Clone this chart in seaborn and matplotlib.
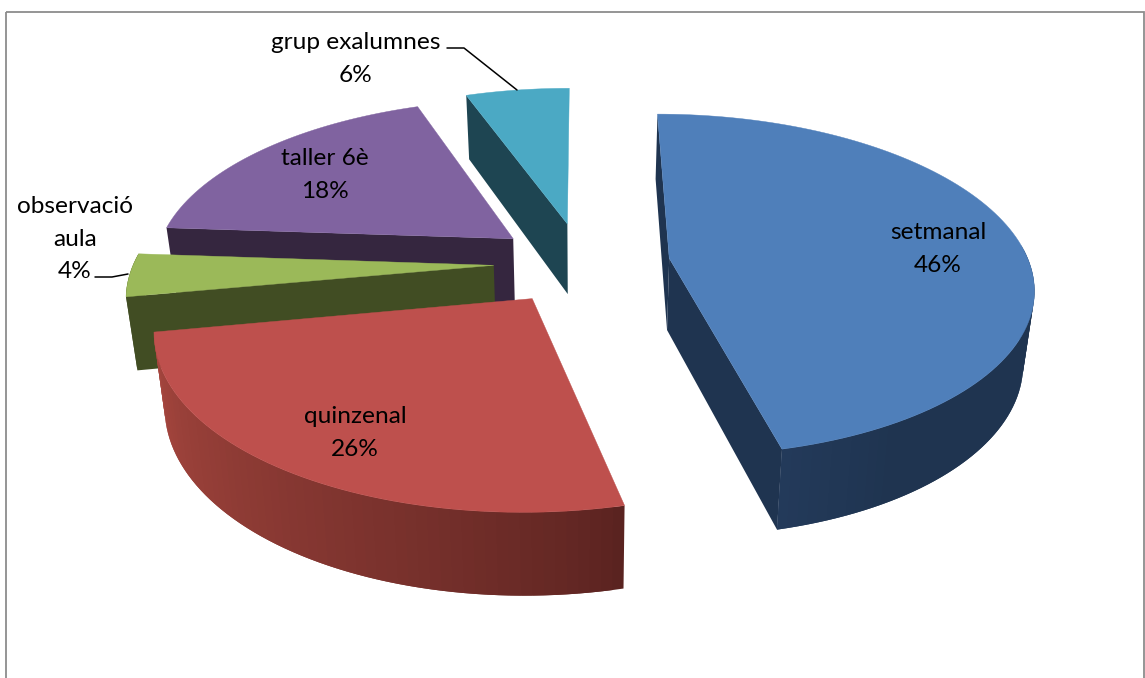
import numpy as np
import seaborn as sns
import matplotlib.pyplot as plt
from matplotlib.patches import Rectangle

categories = ['setmanal', 'quinzenal', 'observació\naula', 'taller 6è', 'grup exalumnes']
values = [46.3, 25.8, 4.0, 18.4, 5.5]
top_colors = ['#4F7FBA', '#BE504D', '#9BB959', '#8063A0', '#4BA9C4']
wall_light = ['#233A5A', '#A8473F', '#414D23', '#35263F', '#1E4552']
wall_dark = ['#1F3450', '#5A2320', '#414D23', '#35263F', '#1E4552']
label_pos = [(938, 249), (355, 433), (75, 239), (325, 175), (356, 59)]

sns.set_theme(style='white')
plt.rcParams['font.family'] = ['Lato', 'DejaVu Sans']

# projection of the tilted pie, pixels on the picture
cx, cy = 582, 263
rx, ry, persp, depth = 360, 168, 0.156, 72
explode = 0.245


def project(x, y, z=0):
    s = 1 / (1 + persp * y)
    return cx + rx * x * s * (1 - 0.025 * z), cy - ry * y * s + depth * z * s ** 0.7


def blend(c1, c2, t):
    a = np.array(sns.color_palette([c1])[0])
    b = np.array(sns.color_palette([c2])[0])
    return tuple(a + (b - a) * t)


def side(a, b, p):
    return (b[0] - a[0]) * (p[1] - a[1]) - (b[1] - a[1]) * (p[0] - a[0])


fig = plt.figure(figsize=(11.45, 6.78), dpi=100)
ax = fig.add_axes([0, 0, 1, 1])
ax.set_xlim(0, 1145)
ax.set_ylim(678, 0)
ax.axis('off')
ax.add_patch(Rectangle((6, 12), 1138, 700, fill=False, ec='#8C8C8C', lw=1.3))

ends = 90 - np.cumsum(values) * 3.6
starts = np.concatenate([[90], ends[:-1]])

# back slices first, red goes over green
for i in [4, 3, 2, 0, 1]:
    a0, a1 = np.radians(starts[i]), np.radians(ends[i])
    mid = (a0 + a1) / 2
    ox, oy = explode * np.cos(mid), explode * np.sin(mid)
    n = max(int(abs(starts[i] - ends[i]) / 1.5), 2)
    ang = np.linspace(a0, a1, n + 1)
    xs = ox + np.cos(ang)
    ys = oy + np.sin(ang)

    top = [project(ox, oy)] + [project(a, b) for a, b in zip(xs, ys)]
    top = np.array(top)
    inner = top.mean(axis=0)

    # flat cut faces, only when they turn towards the viewer
    for px, py in [(xs[0], ys[0]), (xs[-1], ys[-1])]:
        A, P = project(ox, oy), project(px, py)
        below = (P[0], P[1] + 50)
        if side(A, P, below) * side(A, P, inner) < 0 and abs(P[0] - A[0]) > 4:
            q = np.array([A, P, project(px, py, 1), project(ox, oy, 1)])
            ax.fill(q[:, 0], q[:, 1], color=wall_dark[i], lw=0, zorder=2)

    # arc wall, each strip runs over the next one so no seams show
    for j in range(n):
        if np.sin(ang[j]) > 0.06 and np.sin(ang[j + 1]) > 0.06:
            continue
        k = min(j + 2, n)
        idx = range(j, k + 1)
        upper = [project(xs[m], ys[m]) for m in idx]
        lower = [project(xs[m], ys[m], 1) for m in idx]
        q = np.array(upper + lower[::-1])
        if i == 0:
            c = blend(wall_light[i], wall_dark[i], min(1, (n - 1 - j) / n * 10))
        else:
            c = blend(wall_dark[i], wall_light[i], (j / n) ** 0.8)
        ax.fill(q[:, 0], q[:, 1], color=c, lw=0, zorder=2)

    ax.fill(top[:, 0], top[:, 1], color=top_colors[i], lw=0.3, zorder=2)

for name, val, pos in zip(categories, values, label_pos):
    ax.text(pos[0], pos[1], f'{name}\n{val:.0f}%', ha='center', va='center', fontsize=17.6,
            color='black', linespacing=1.65, zorder=4)

# leader lines
ax.plot([447, 464, 517], [48, 48, 90], color='black', lw=1.1, zorder=3)
ax.plot([95, 112, 128], [277, 277, 274], color='black', lw=1.1, zorder=3)

fig.savefig('out.png', dpi=100)
